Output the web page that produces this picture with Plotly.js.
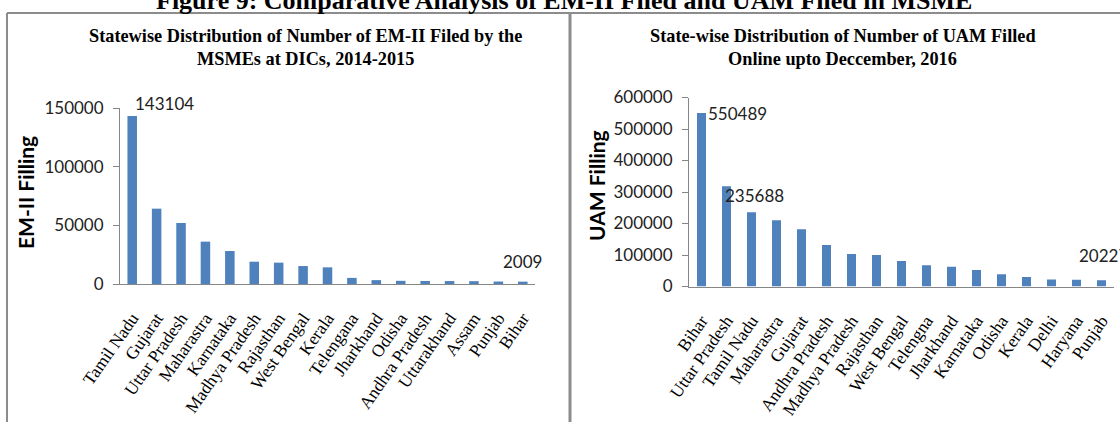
<!DOCTYPE html>
<html>
<head>
<meta charset="utf-8">
<script src="https://cdn.plot.ly/plotly-3.0.1.min.js"></script>
<style>html,body{margin:0;padding:0;background:#fff;}#chart{width:1120px;height:422px;}</style>
</head>
<body>
<div id="chart"></div>
<script>
// ---- data ----
const emStates = ["Tamil Nadu","Gujarat","Uttar Pradesh","Maharastra","Karnataka","Madhya Pradesh","Rajasthan","West Bengal","Kerala","Telengana","Jharkhand","Odisha","Andhra Pradesh","Uttarakhand","Assam","Punjab","Bihar"];
const emValues = [143104,64200,52000,36100,28100,19000,18200,15300,14200,5200,3300,2700,2600,2500,2400,2100,2009];
const uamStates = ["Bihar","Uttar Pradesh","Tamil Nadu","Maharastra","Gujarat","Andhra Pradesh","Madhya Pradesh","Rajasthan","West Bengal","Telengna","Jharkhand","Karnataka","Odisha","Kerala","Delhi","Haryana","Punjab"];
const uamValues = [550489,318000,235688,210000,181500,132000,103000,99800,80900,67200,63000,52500,38900,30500,22500,21800,20227];
const emLabelIdx = [0,16];
const uamLabelIdx = [0,2,16];

const W = 1120, H = 422;
const px = v => v / W;
const py = v => 1 - v / H;

const tickFont = {family: "Lato, 'Liberation Sans', sans-serif", size: 17, color: "#222"};
const catFont = {family: "'Liberation Serif', 'Times New Roman', serif", size: 17.5, color: "#000"};
const subFont = {family: "'Liberation Serif', 'Times New Roman', serif", size: 18.3, color: "#000", weight: "bold"};
const barColor = "#4f81bd";
const axisColor = "#868686";
const frameColor = "#8c8c8c";

const traces = [
  {type: "bar", x: emStates, y: emValues, xaxis: "x", yaxis: "y", width: 0.39,
   marker: {color: barColor}, hoverinfo: "x+y", showlegend: false},
  {type: "bar", x: uamStates, y: uamValues, xaxis: "x2", yaxis: "y2", width: 0.36,
   marker: {color: barColor}, hoverinfo: "x+y", showlegend: false}
];

const annotations = [];
// main title (clipped at top)
annotations.push({xref: "paper", yref: "paper", x: px(564), y: py(17), xanchor: "center", yanchor: "bottom",
  text: "Figure 9: Comparative Analysis of EM-II Filed and UAM Filed in MSME", showarrow: false,
  font: {family: "'Liberation Serif', 'Times New Roman', serif", size: 26, color: "#000", weight: "bold"}});
// subtitles
[[306, 36, "Statewise Distribution of Number of EM-II Filed by the"],
 [306, 59, "MSMEs at DICs, 2014-2015"],
 [843, 36, "State-wise Distribution of Number of UAM Filled"],
 [842, 59, "Online upto Deccember, 2016"]].forEach(a => annotations.push({
  xref: "paper", yref: "paper", x: px(a[0]), y: py(a[1]), xanchor: "center", yanchor: "middle",
  text: a[2], showarrow: false, font: subFont}));
// y axis titles
annotations.push({xref: "paper", yref: "paper", x: px(25), y: py(193), xanchor: "center", yanchor: "middle",
  text: "EM-II Filling", textangle: -90, showarrow: false,
  font: {family: "Lato, 'Liberation Sans', sans-serif", size: 21, color: "#000", weight: "bold"}});
annotations.push({xref: "paper", yref: "paper", x: px(596), y: py(186), xanchor: "center", yanchor: "middle",
  text: "UAM Filling", textangle: -90, showarrow: false,
  font: {family: "Lato, 'Liberation Sans', sans-serif", size: 21, color: "#000", weight: "bold"}});
// data labels
annotations.push({xref: "x", yref: "y", x: emStates[emLabelIdx[0]], y: emValues[emLabelIdx[0]],
  text: String(emValues[emLabelIdx[0]]), showarrow: false, xanchor: "left", yanchor: "bottom", xshift: 1, yshift: 0, font: tickFont});
annotations.push({xref: "x", yref: "y", x: emStates[emLabelIdx[1]], y: emValues[emLabelIdx[1]],
  text: String(emValues[emLabelIdx[1]]), showarrow: false, xanchor: "center", yanchor: "bottom", yshift: 8, font: tickFont});
annotations.push({xref: "x2", yref: "y2", x: uamStates[uamLabelIdx[0]], y: uamValues[uamLabelIdx[0]],
  text: String(uamValues[uamLabelIdx[0]]), showarrow: false, xanchor: "left", yanchor: "middle", xshift: 4, yshift: 0, font: tickFont});
annotations.push({xref: "x2", yref: "y2", x: uamStates[uamLabelIdx[1]], y: uamValues[uamLabelIdx[1]],
  text: String(uamValues[uamLabelIdx[1]]), showarrow: false, xanchor: "center", yanchor: "bottom", xshift: 3, yshift: 4, font: tickFont});
annotations.push({xref: "x2", yref: "y2", x: uamStates[uamLabelIdx[2]], y: uamValues[uamLabelIdx[2]],
  text: String(uamValues[uamLabelIdx[2]]), showarrow: false, xanchor: "center", yanchor: "bottom", xshift: 2, yshift: 12, font: tickFont});

const shapes = [
  {type: "line", xref: "paper", yref: "paper", x0: px(7), x1: 1, y0: py(13), y1: py(13), line: {color: frameColor, width: 2}},
  {type: "line", xref: "paper", yref: "paper", x0: px(7), x1: px(7), y0: py(13), y1: 0, line: {color: frameColor, width: 2}},
  {type: "line", xref: "paper", yref: "paper", x0: px(570), x1: px(570), y0: py(13), y1: 0, line: {color: frameColor, width: 3}}
];

function xax(domain) {
  return {domain: domain, type: "category", range: [-0.5, 16.5], showline: true, linecolor: axisColor, linewidth: 1,
    ticks: "", tickangle: -55, ticklabelstandoff: 16, tickfont: catFont, showgrid: false, zeroline: false, fixedrange: true};
}
function yax(domain, range, dtick, anchor) {
  return {domain: domain, range: range, dtick: dtick, tick0: 0, tickformat: "d", showline: true, linecolor: axisColor, linewidth: 1,
    ticks: "outside", ticklen: 6, tickcolor: axisColor, tickwidth: 1, ticklabelstandoff: 6,
    tickfont: tickFont, showgrid: false, zeroline: false, anchor: anchor, fixedrange: true};
}

const layout = {
  width: W, height: H, margin: {l: 0, r: 0, t: 0, b: 0},
  paper_bgcolor: "#fff", plot_bgcolor: "#fff", showlegend: false,
  xaxis: Object.assign(xax([px(120), px(535)]), {anchor: "y"}),
  yaxis: yax([py(284), py(108)], [0, 150000], 50000, "x"),
  xaxis2: Object.assign(xax([px(689), px(1114)]), {anchor: "y2"}),
  yaxis2: yax([py(286.5), py(97.5)], [0, 600000], 100000, "x2"),
  annotations: annotations, shapes: shapes
};

Plotly.newPlot("chart", traces, layout, {staticPlot: true, displayModeBar: false});
</script>
</body>
</html>
